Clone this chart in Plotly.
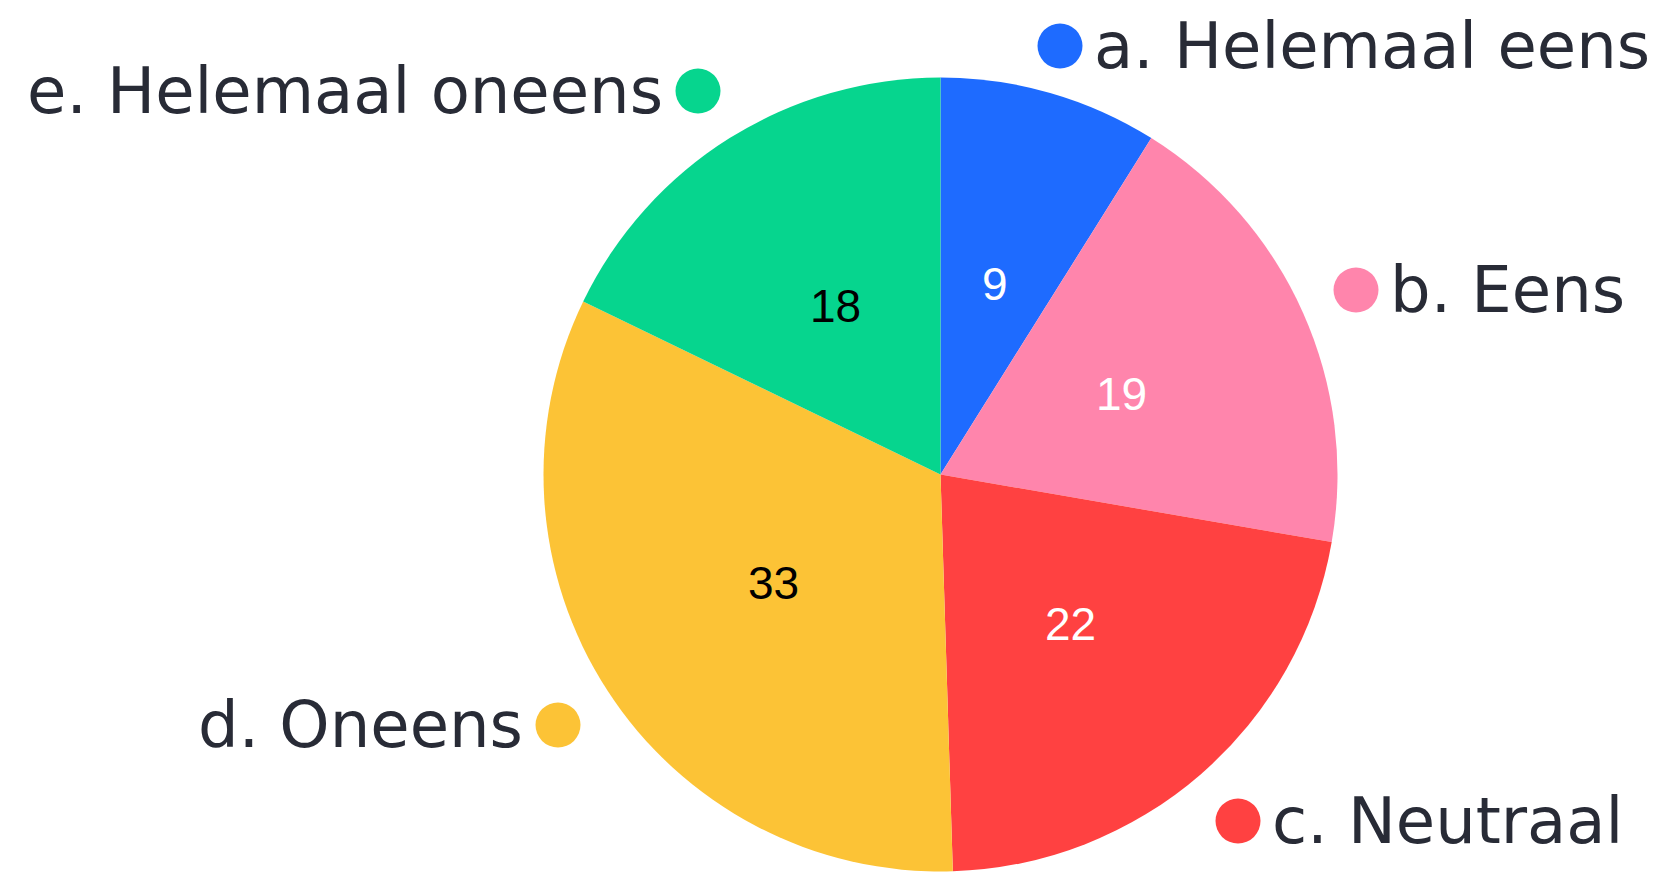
import math
import plotly.graph_objects as go

categories = ["a. Helemaal eens", "b. Eens", "c. Neutraal", "d. Oneens", "e. Helemaal oneens"]
values = [9, 19, 22, 33, 18]
colors = ["#1E6BFF", "#FF85AC", "#FF4141", "#FCC336", "#06D58E"]
text_colors = ["white", "white", "white", "black", "black"]

W, H = 1671, 872
CX, CY, R = 932.5, 466.5, 397.0  # pie centre / radius in px

fig = go.Figure(go.Pie(
    labels=categories,
    values=values,
    sort=False,
    direction="clockwise",
    rotation=0,
    marker=dict(colors=colors, line=dict(width=0)),
    textinfo="none",
    showlegend=False,
    hoverinfo="label+value",
    domain=dict(x=[(CX - R) / W, (CX + R) / W], y=[(H - CY - R) / H, (H - CY + R) / H]),
))

annotations = []
shapes = []

# value labels at half radius, mid-angle of each slice (computed from the data)
total = sum(values)
cum = 0
for v, tc in zip(values, text_colors):
    mid = (cum + v / 2) / total * 2 * math.pi
    cum += v
    px = CX + 0.5 * R * math.sin(mid)
    py = CY - 0.5 * R * math.cos(mid)
    annotations.append(dict(
        x=px / W, y=(H - py) / H, xref="paper", yref="paper", text=str(v),
        showarrow=False, xanchor="center", yanchor="middle",
        font=dict(family="Liberation Sans, Arial", size=46, color=tc),
    ))

# outside category labels: (dot centre x, y in px, side)
label_layout = [
    (1052, 38, "right"),
    (1348, 282, "right"),
    (1230, 813, "right"),
    (550, 717, "left"),
    (690, 83, "left"),
]
for cat, col, (dx, dy, side) in zip(categories, colors, label_layout):
    xp = dx / W
    yp = (H - dy) / H
    shapes.append(dict(
        type="circle", xref="paper", yref="paper", xsizemode="pixel", ysizemode="pixel",
        xanchor=xp, yanchor=yp, x0=-22.5, x1=22.5, y0=-22.5, y1=22.5,
        fillcolor=col, line=dict(width=0),
    ))
    if side == "right":
        ax, anchor = (dx + 33) / W, "left"
    else:
        ax, anchor = (dx - 34) / W, "right"
    ann = dict(
        x=ax, y=yp, xref="paper", yref="paper", text=cat,
        showarrow=False, xanchor=anchor, yanchor="middle", borderpad=0,
        font=dict(family="DejaVu Sans", size=64, color="#282B36"),
    )
    if dy < 45:
        ann.update(y=1, yanchor="top")
    annotations.append(ann)

fig.update_layout(
    width=W, height=H,
    margin=dict(l=0, r=0, t=0, b=0),
    paper_bgcolor="white",
    plot_bgcolor="white",
    annotations=annotations,
    shapes=shapes,
)

fig.write_html("out.html")
